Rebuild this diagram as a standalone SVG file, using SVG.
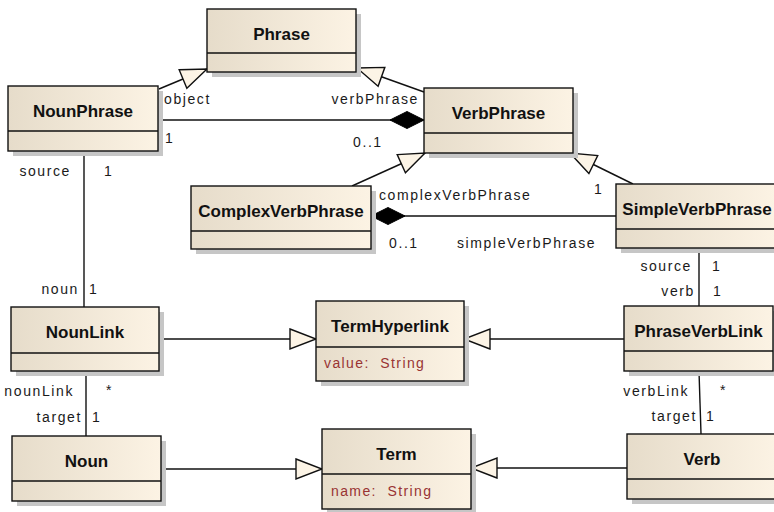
<svg xmlns="http://www.w3.org/2000/svg" width="774" height="512" viewBox="0 0 774 512">
<defs>
<linearGradient id="boxFill" x1="0" y1="0" x2="1" y2="0">
<stop offset="0" stop-color="#E6DCCA"/>
<stop offset="1" stop-color="#FCF3E4"/>
</linearGradient>
<marker id="gen" markerUnits="userSpaceOnUse" markerWidth="30" markerHeight="24" refX="27" refY="11" orient="auto" overflow="visible">
<path d="M1,1 L27,11 L1,21 Z" fill="#FCF4E6" stroke="#111" stroke-width="1.4"/>
</marker>
<marker id="comp" markerUnits="userSpaceOnUse" markerWidth="36" markerHeight="20" refX="34" refY="9" orient="auto" overflow="visible">
<path d="M0,9 L17,0.5 L34,9 L17,17.5 Z" fill="#000" stroke="#000" stroke-width="1"/>
</marker>
<style>
.shadow{fill:#c6c6c6}
.box{fill:url(#boxFill);stroke:#111;stroke-width:1.4}
.div{stroke:#111;stroke-width:1.4}
.name{font-family:"Liberation Sans",Arial,sans-serif;font-weight:bold;font-size:17px;fill:#111;text-anchor:middle}
.attr{font-family:"Liberation Sans",Arial,sans-serif;font-size:14px;letter-spacing:1.4px;fill:#993333;white-space:pre}
.lbl{font-family:"Liberation Sans",Arial,sans-serif;font-size:14px;letter-spacing:1.6px;fill:#1a1a1a}
.end{text-anchor:end}
.edge{fill:none;stroke:#111;stroke-width:1.4}
.g{marker-end:url(#gen)}
.c{marker-end:url(#comp)}
</style>
</defs>
<rect width="774" height="512" fill="#ffffff"/>

<g id="connectors">
<path class="edge g" d="M159,89 L207,69"/>
<path class="edge g" d="M424,92 L357,68"/>
<path class="edge g" d="M352,186 L425,153"/>
<path class="edge g" d="M633,184 L570,153"/>
<path class="edge g" d="M159,339 L316,339"/>
<path class="edge g" d="M624,339 L464,339"/>
<path class="edge g" d="M161,469 L322,469"/>
<path class="edge g" d="M627,468 L471,468"/>
<path class="edge c" d="M159,120 L424,120"/>
<path class="edge c" d="M616,216 L371,216"/>
<path class="edge" d="M84,151 L84,307"/>
<path class="edge" d="M699,248 L699,306"/>
<path class="edge" d="M86,371 L86,436"/>
<path class="edge" d="M699,371 L701,434"/>

<text class="lbl" x="164" y="104">object</text>
<text class="lbl" x="165" y="143">1</text>
<text class="lbl end" x="419" y="104">verbPhrase</text>
<text class="lbl" x="353" y="147">0..1</text>
<text class="lbl end" x="71" y="176">source</text>
<text class="lbl" x="104" y="176">1</text>
<text class="lbl end" x="79" y="294">noun</text>
<text class="lbl" x="89" y="294">1</text>
<text class="lbl end" x="74" y="396">nounLink</text>
<text class="lbl" x="106" y="395">*</text>
<text class="lbl end" x="82" y="422">target</text>
<text class="lbl" x="92" y="422">1</text>
<text class="lbl" x="379" y="200">complexVerbPhrase</text>
<text class="lbl" x="389" y="248">0..1</text>
<text class="lbl" x="457" y="248">simpleVerbPhrase</text>
<text class="lbl" x="594" y="194">1</text>
<text class="lbl end" x="692" y="271">source</text>
<text class="lbl" x="712" y="271">1</text>
<text class="lbl end" x="695" y="296">verb</text>
<text class="lbl" x="713" y="296">1</text>
<text class="lbl end" x="689" y="396">verbLink</text>
<text class="lbl" x="720" y="395">*</text>
<text class="lbl end" x="697" y="421">target</text>
<text class="lbl" x="706" y="421">1</text>
</g>

<g id="Phrase">
<rect class="shadow" x="212" y="14" width="149" height="63"/>
<rect class="box" x="207" y="9" width="149" height="63"/>
<line class="div" x1="207" y1="53" x2="356" y2="53"/>
<text class="name" x="281.5" y="39.5">Phrase</text>
</g>

<g id="NounPhrase">
<rect class="shadow" x="13" y="91" width="150" height="65"/>
<rect class="box" x="8" y="86" width="150" height="65"/>
<line class="div" x1="8" y1="131" x2="158" y2="131"/>
<text class="name" x="83" y="116.5">NounPhrase</text>
</g>

<g id="VerbPhrase">
<rect class="shadow" x="429" y="93" width="149" height="65"/>
<rect class="box" x="424" y="88" width="149" height="65"/>
<line class="div" x1="424" y1="133" x2="573" y2="133"/>
<text class="name" x="498.5" y="118.5">VerbPhrase</text>
</g>

<g id="ComplexVerbPhrase">
<rect class="shadow" x="196" y="191" width="180" height="63"/>
<rect class="box" x="191" y="186" width="180" height="63"/>
<line class="div" x1="191" y1="231" x2="371" y2="231"/>
<text class="name" x="281" y="216.5">ComplexVerbPhrase</text>
</g>

<g id="SimpleVerbPhrase">
<rect class="shadow" x="621" y="189" width="160" height="64"/>
<rect class="box" x="616" y="184" width="160" height="64"/>
<line class="div" x1="616" y1="229" x2="776" y2="229"/>
<text class="name" x="697" y="214.5">SimpleVerbPhrase</text>
</g>

<g id="NounLink">
<rect class="shadow" x="16" y="312" width="148" height="64"/>
<rect class="box" x="11" y="307" width="148" height="64"/>
<line class="div" x1="11" y1="353" x2="159" y2="353"/>
<text class="name" x="85" y="337.5">NounLink</text>
</g>

<g id="Noun">
<rect class="shadow" x="17" y="441" width="149" height="65"/>
<rect class="box" x="12" y="436" width="149" height="65"/>
<line class="div" x1="12" y1="481" x2="161" y2="481"/>
<text class="name" x="86.5" y="466.5">Noun</text>
</g>

<g id="TermHyperlink">
<rect class="shadow" x="321" y="306" width="148" height="80"/>
<rect class="box" x="316" y="301" width="148" height="80"/>
<line class="div" x1="316" y1="347" x2="464" y2="347"/>
<text class="name" x="390" y="331.5">TermHyperlink</text>
<text class="attr" x="324" y="368" xml:space="preserve">value:  String</text>
</g>

<g id="Term">
<rect class="shadow" x="327" y="434" width="149" height="80"/>
<rect class="box" x="322" y="429" width="149" height="80"/>
<line class="div" x1="322" y1="474" x2="471" y2="474"/>
<text class="name" x="396.5" y="459.5">Term</text>
<text class="attr" x="331" y="496" xml:space="preserve">name:  String</text>
</g>

<g id="PhraseVerbLink">
<rect class="shadow" x="629" y="311" width="149" height="65"/>
<rect class="box" x="624" y="306" width="149" height="65"/>
<line class="div" x1="624" y1="351" x2="773" y2="351"/>
<text class="name" x="698.5" y="336.5">PhraseVerbLink</text>
</g>

<g id="Verb">
<rect class="shadow" x="632" y="439" width="150" height="65"/>
<rect class="box" x="627" y="434" width="150" height="65"/>
<line class="div" x1="627" y1="479" x2="777" y2="479"/>
<text class="name" x="702" y="464.5">Verb</text>
</g>
</svg>
